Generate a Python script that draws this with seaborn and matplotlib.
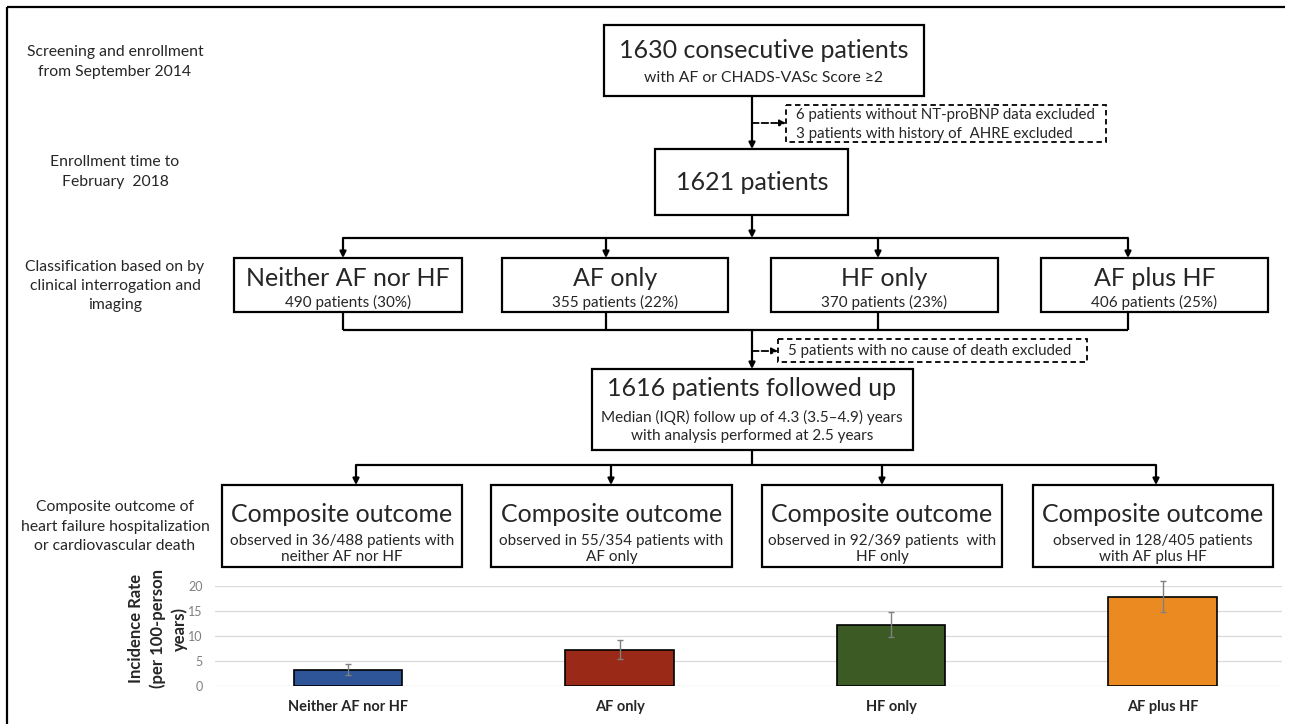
import numpy as np
import matplotlib
matplotlib.use("Agg")
import matplotlib.pyplot as plt
import seaborn as sns

sns.set_style("white")
plt.rcParams['font.family'] = ['Lato', 'DejaVu Sans']

# bar chart data
groups = ["Neither AF nor HF", "AF only", "HF only", "AF plus HF"]
rates = np.array([3.1, 7.1, 12.1, 17.7])
ci_low = np.array([2.1, 5.3, 9.7, 14.8])
ci_high = np.array([4.3, 9.2, 14.8, 20.9])
bar_colors = ["#2E5597", "#9A2A17", "#3B5A24", "#EC8A22"]

# flowchart texts
side_labels = ["Screening and enrollment\nfrom September 2014",
               "Enrollment time to\nFebruary  2018",
               "Classification based on by\nclinical interrogation and\nimaging",
               "Composite outcome of\nheart failure hospitalization\nor cardiovascular death"]
class_counts = ["490 patients (30%)", "355 patients (22%)",
                "370 patients (23%)", "406 patients (25%)"]
outcome_notes = ["observed in 36/488 patients with\nneither AF nor HF",
                 "observed in 55/354 patients with\nAF only",
                 "observed in 92/369 patients  with\nHF only",
                 "observed in 128/405 patients\nwith AF plus HF"]

fig = plt.figure(figsize=(12.9, 7.24), dpi=100)
ax = fig.add_axes([0, 0, 1, 1])
ax.set_xlim(0, 1290)
ax.set_ylim(724, 0)
ax.axis('off')

LW = 1.6


def box(x0, y0, x1, y1, dashed=False):
    ax.add_patch(plt.Rectangle((x0, y0), x1 - x0, y1 - y0, fill=False,
                               edgecolor='black', lw=1.3 if dashed else LW,
                               linestyle=(0, (3, 2)) if dashed else '-'))


def line(xs, ys):
    ax.plot(xs, ys, color='black', lw=LW, solid_capstyle='butt')


def arrow(x0, y0, x1, y1, dashed=False):
    ax.annotate("", xy=(x1, y1), xytext=(x0, y0),
                arrowprops=dict(arrowstyle='-|>', color='black',
                                lw=1.3 if dashed else LW,
                                linestyle='--' if dashed else '-',
                                mutation_scale=9, shrinkA=0, shrinkB=0))


# outer frame
line([7, 7], [7, 724])
line([7, 1285], [7, 7])

# side labels
for lab, y in zip(side_labels, [62, 172, 286, 527]):
    ax.text(115, y, lab, ha='center', va='center', multialignment='center',
            fontsize=11.3, linespacing=1.5)

# top box
box(604, 25, 924, 96)
ax.text(764, 50, "1630 consecutive patients", ha='center', va='center', fontsize=18)
ax.text(764, 78, "with AF or CHADS-VASc Score \u22652", ha='center', va='center', fontsize=11.3)
arrow(752, 96, 752, 149)
arrow(752, 123, 786, 123, dashed=True)
box(786, 105, 1106, 142, dashed=True)
ax.text(796, 115, "6 patients without NT-proBNP data excluded", ha='left', va='center', fontsize=10.8)
ax.text(796, 134, "3 patients with history of  AHRE excluded", ha='left', va='center', fontsize=10.8)

box(655, 149, 848, 215)
ax.text(752, 183, "1621 patients", ha='center', va='center', fontsize=18)
arrow(752, 215, 752, 238)

# classification boxes
cls_x = [(234, 462), (502, 728), (771, 998), (1041, 1268)]
cls_join = [343, 606, 878, 1128]
line([343, 1128], [238, 238])
for (x0, x1), xj, name, cnt in zip(cls_x, cls_join, groups, class_counts):
    arrow(xj, 238, xj, 258)
    box(x0, 258, x1, 312)
    ax.text((x0 + x1) / 2, 278, name, ha='center', va='center', fontsize=18)
    ax.text((x0 + x1) / 2, 302, cnt, ha='center', va='center', fontsize=11)
    line([xj, xj], [312, 330])
line([343, 1128], [330, 330])

arrow(752, 330, 752, 369)
arrow(752, 351, 778, 351, dashed=True)
box(778, 339, 1087, 362, dashed=True)
ax.text(788, 351, "5 patients with no cause of death excluded", ha='left', va='center', fontsize=10.8)

box(592, 369, 913, 450)
ax.text(752, 389, "1616 patients followed up", ha='center', va='center', fontsize=18)
ax.text(752, 417, "Median (IQR) follow up of 4.3 (3.5\u20134.9) years", ha='center', va='center', fontsize=11)
ax.text(752, 436, "with analysis performed at 2.5 years", ha='center', va='center', fontsize=11)
line([752, 752], [450, 465])

# outcome boxes
out_x = [(222, 462), (491, 732), (762, 1002), (1033, 1273)]
out_join = [356, 611, 882, 1156]
line([356, 1156], [465, 465])
for (x0, x1), xj, note in zip(out_x, out_join, outcome_notes):
    arrow(xj, 465, xj, 485)
    box(x0, 485, x1, 567)
    ax.text((x0 + x1) / 2, 514, "Composite outcome", ha='center', va='center', fontsize=18)
    ax.text((x0 + x1) / 2, 549, note, ha='center', va='center', multialignment='center',
            fontsize=11, linespacing=1.2)

# bar chart
bx = fig.add_axes([215 / 1290, 38.3 / 724, (1282 - 215) / 1290, 100 / 724])
sns.barplot(x=groups, y=rates, hue=groups, palette=bar_colors, width=0.4,
            edgecolor='black', linewidth=1.2, legend=False, saturation=1, ax=bx)
bx.errorbar(np.arange(len(groups)), rates, yerr=[rates - ci_low, ci_high - rates],
            fmt='none', ecolor='#808080', elinewidth=1, capsize=2.5, capthick=1, clip_on=False)
bx.set_xlim(-0.49, 3.44)
bx.set_ylim(0, 20)
bx.set_yticks([0, 5, 10, 15, 20])
bx.yaxis.grid(True, color='#d9d9d9', lw=0.9)
bx.set_axisbelow(True)
for s in bx.spines.values():
    s.set_visible(False)
bx.tick_params(axis='y', length=0, pad=9, labelsize=9, labelcolor='#7f7f7f')
bx.tick_params(axis='x', length=0, pad=10)
for t in bx.get_xticklabels():
    t.set_fontweight('bold')
    t.set_fontsize(10.5)
bx.set_xlabel("")
bx.set_ylabel("Incidence Rate\n(per 100-person\nyears)", fontweight='bold', fontsize=12,
              linespacing=1.4, multialignment='center')
bx.yaxis.set_label_coords(-0.025, 0.57)
bx.patch.set_alpha(0)

fig.savefig("out.png", dpi=100)
